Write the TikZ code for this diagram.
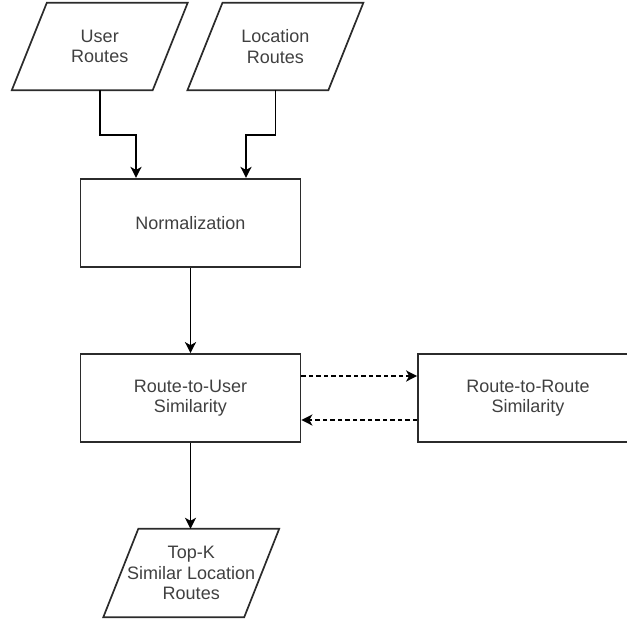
\documentclass[tikz,border=0pt]{standalone}
\usepackage{fontspec}
\setmainfont{Liberation Sans}
\usetikzlibrary{arrows.meta}
\definecolor{linecol}{HTML}{2B2B2B}
\definecolor{textcol}{HTML}{404040}
\tikzset{
  border/.style={draw=linecol, line width=1.7pt},
  box/.style={border, rectangle, minimum width=220pt, minimum height=88pt, inner sep=0pt,
    align=center, text=textcol, font=\fontsize{18}{20.5}\selectfont},
  para/.style={rectangle, minimum width=140.5pt, minimum height=87pt, inner sep=0pt,
    align=center, text=textcol, font=\fontsize{18}{20.5}\selectfont},
  arr/.style={draw=black, line width=1.8pt, -{Stealth[length=11pt, width=11pt, inset=3pt]}},
  dasharr/.style={arr, dash pattern=on 4.5pt off 3pt}
}
\begin{document}
\begin{tikzpicture}[x=1pt, y=-1pt]
\useasboundingbox (0,0) rectangle (627,619);
% input parallelograms
\node[para] (ur) at (99.75,46.5) {User\\Routes};
\node[para] (lr) at (275.4,46.5) {Location\\Routes};
% process boxes
\node[box] (norm) at (190.5,222.75) {Normalization};
\node[box] (r2u) at (190.5,398) {Route-to-User\\Similarity};
\node[box] (r2r) at (528,398) {Route-to-Route\\Similarity};
% output parallelogram
\node[para, minimum height=88pt] (tk) at (191.25,573) {Top-K\\Similar Location\\Routes};
% parallelogram outlines
\foreach \n in {ur,lr,tk}
  \draw[border] ([xshift=17.5pt]\n.north west) -- ([xshift=17.5pt]\n.north east)
    -- ([xshift=-17.5pt]\n.south east) -- ([xshift=-17.5pt]\n.south west) -- cycle;
% connectors
\draw[arr] (ur.south) -- ++(0,45) -| ([xshift=-54.5pt]norm.north);
\draw[arr] (lr.south) -- ++(0,45) -| ([xshift=55.5pt]norm.north);
\draw[arr] (norm.south) -- (r2u.north);
\draw[arr] (r2u.south) -- (r2u.south |- tk.north);
\draw[dasharr] ([yshift=22pt]r2u.east) -- ([yshift=22pt]r2r.west);
\draw[dasharr] ([yshift=-22pt]r2r.west) -- ([yshift=-22pt]r2u.east);
\end{tikzpicture}
\end{document}
